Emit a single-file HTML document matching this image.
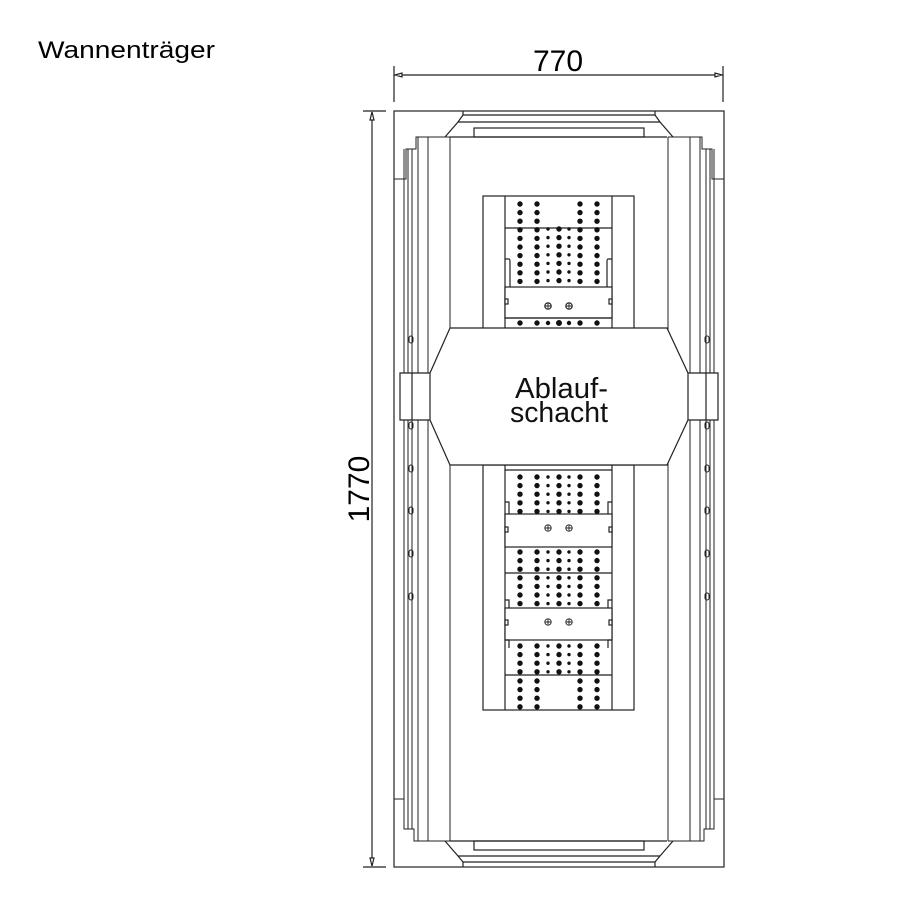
<!DOCTYPE html>
<html><head><meta charset="utf-8"><style>html,body{margin:0;padding:0;background:#fff}svg{display:block}</style></head>
<body>
<svg width="900" height="900" viewBox="0 0 900 900" xmlns="http://www.w3.org/2000/svg">
<rect width="900" height="900" fill="#fff"/>
<text x="38" y="58" font-family="Liberation Sans, sans-serif" font-size="24" textLength="177" lengthAdjust="spacingAndGlyphs" fill="#000">Wannenträger</text>
<g stroke="#222" stroke-width="1.2" fill="none">
<line x1="394" y1="66" x2="394" y2="102"/><line x1="723" y1="66" x2="723" y2="102"/>
<line x1="396" y1="75" x2="721" y2="75"/>
<path d="M395 75 L402 73 L402 77 Z M722 75 L715 73 L715 77 Z" fill="#fff"/>
<line x1="363" y1="111" x2="386" y2="111"/><line x1="363" y1="867" x2="386" y2="867"/>
<line x1="372" y1="112" x2="372" y2="866"/>
<path d="M372 112 L370 120 L374 120 Z M372 866 L370 858 L374 858 Z" fill="#fff"/>
<rect x="394" y="111" width="330" height="756"/>
</g>
<text x="558" y="71" text-anchor="middle" font-family="Liberation Sans, sans-serif" font-size="30" fill="#000">770</text>
<text transform="translate(369,489) rotate(-90)" text-anchor="middle" font-family="Liberation Sans, sans-serif" font-size="30" fill="#000">1770</text>

<g id="half" stroke="#222" stroke-width="1" fill="none">
<path d="M394 179 H406 V149 H416 V137 H450"/>
<path d="M394 799 H404 V829 H414 V841 H450"/>
<line x1="404" y1="149" x2="404" y2="829"/>
<line x1="408" y1="149" x2="408" y2="829"/>
<line x1="412" y1="149" x2="412" y2="829"/>
<line x1="418" y1="137" x2="418" y2="841"/>
<line x1="428" y1="137" x2="428" y2="841"/>
<line x1="450" y1="137" x2="450" y2="841"/>
<g stroke-width="1">
<rect x="409" y="336" width="4" height="7" rx="2"/>
<rect x="409" y="422" width="4" height="7" rx="2"/>
<rect x="409" y="465" width="4" height="7" rx="2"/>
<rect x="409" y="507" width="4" height="7" rx="2"/>
<rect x="409" y="550" width="4" height="7" rx="2"/>
<rect x="409" y="593" width="4" height="7" rx="2"/>
</g>
</g>
<use href="#half" transform="translate(1118,0) scale(-1,1)"/>

<g stroke="#222" stroke-width="1.2" fill="none">
<path d="M463 111 V115 H655 V111"/>
<path d="M445 137 L458 122 L463 115 M673 137 L660 122 L655 115"/>
<path d="M458 122 H660"/>
<rect x="474" y="128" width="170" height="9"/>
<line x1="450" y1="137" x2="667" y2="137"/>
<path d="M463 867 V862 H655 V867"/>
<path d="M445 841 L458 856 L463 862 M673 841 L660 856 L655 862"/>
<path d="M458 856 H660"/>
<rect x="474" y="841" width="170" height="9"/>
<line x1="450" y1="841" x2="667" y2="841"/>
</g>

<g stroke="#222" stroke-width="1.2" fill="#fff">
<rect x="483" y="196" width="151" height="133"/>
<line x1="505" y1="196" x2="505" y2="329"/><line x1="612" y1="196" x2="612" y2="329"/>
<line x1="505" y1="228" x2="612" y2="228"/>
<path d="M505 259 H509 Q510 259 510 262 V287 M612 259 H608 Q607 259 607 262 V287" fill="none"/>
<rect x="505" y="287" width="107" height="31"/>
<rect x="505" y="299" width="3" height="5"/><rect x="609" y="299" width="3" height="5"/>
<circle cx="548" cy="306" r="3.2" fill="none"/><circle cx="569" cy="306" r="3.2" fill="none"/>
<path d="M545 306 H551 M548 303 V309 M566 306 H572 M569 303 V309" stroke-width="0.9"/>
<line x1="505" y1="318" x2="612" y2="318"/>
</g>
<g stroke="#222" stroke-width="1.2" fill="#fff">
<rect x="483" y="465" width="151" height="245"/>
<line x1="505" y1="465" x2="505" y2="710"/><line x1="612" y1="465" x2="612" y2="710"/>
<line x1="505" y1="470" x2="612" y2="470"/>
<rect x="505" y="514" width="107" height="33"/>
<rect x="505" y="527" width="3" height="5"/><rect x="609" y="527" width="3" height="5"/>
<line x1="505" y1="573" x2="612" y2="573"/>
<rect x="505" y="608" width="107" height="32"/>
<rect x="505" y="620" width="3" height="5"/><rect x="609" y="620" width="3" height="5"/>
<line x1="505" y1="675" x2="612" y2="675"/>
<path d="M505 502 H509 V514 M612 502 H608 V514 M505 600 H509 V608 M612 600 H608 V608 M505 640 H509 V648 M612 640 H608 V648" fill="none"/>
<g fill="none" stroke-width="0.9">
<circle cx="548" cy="528" r="3.2"/><circle cx="569" cy="528" r="3.2"/>
<circle cx="548" cy="622" r="3.2"/><circle cx="569" cy="622" r="3.2"/>
<path d="M545 528 H551 M548 525 V531 M566 528 H572 M569 525 V531 M545 622 H551 M548 619 V625 M566 622 H572 M569 619 V625"/>
</g>
</g>

<g stroke="#111" stroke-linecap="round" fill="none">
<g stroke-width="5.4" stroke-dasharray="0 8.6">
<line x1="520" y1="204" x2="520" y2="282"/><line x1="537" y1="204" x2="537" y2="282"/>
<line x1="580" y1="204" x2="580" y2="282"/><line x1="597" y1="204" x2="597" y2="282"/>
<line x1="559" y1="229" x2="559" y2="282"/>
<line x1="520" y1="477" x2="520" y2="512"/><line x1="537" y1="477" x2="537" y2="512"/><line x1="559" y1="477" x2="559" y2="512"/><line x1="580" y1="477" x2="580" y2="512"/><line x1="597" y1="477" x2="597" y2="512"/>
<line x1="520" y1="552" x2="520" y2="605"/><line x1="537" y1="552" x2="537" y2="605"/><line x1="559" y1="552" x2="559" y2="605"/><line x1="580" y1="552" x2="580" y2="605"/><line x1="597" y1="552" x2="597" y2="605"/>
<line x1="520" y1="646" x2="520" y2="673"/><line x1="537" y1="646" x2="537" y2="673"/><line x1="559" y1="646" x2="559" y2="673"/><line x1="580" y1="646" x2="580" y2="673"/><line x1="597" y1="646" x2="597" y2="673"/>
<line x1="520" y1="681" x2="520" y2="708"/><line x1="537" y1="681" x2="537" y2="708"/><line x1="580" y1="681" x2="580" y2="708"/><line x1="597" y1="681" x2="597" y2="708"/>
</g>
<line x1="520" y1="323" x2="600" y2="323" stroke-width="5.4" stroke-dasharray="0 17 0 22 0 21 0 17"/>
<g stroke-width="3.4" stroke-dasharray="0 8.6">
<line x1="548" y1="229" x2="548" y2="282"/><line x1="569" y1="229" x2="569" y2="282"/>
<line x1="548" y1="477" x2="548" y2="512"/><line x1="569" y1="477" x2="569" y2="512"/>
<line x1="548" y1="552" x2="548" y2="605"/><line x1="569" y1="552" x2="569" y2="605"/>
<line x1="548" y1="646" x2="548" y2="673"/><line x1="569" y1="646" x2="569" y2="673"/>
</g>
<circle cx="548" cy="323" r="1.7" fill="#111"/><circle cx="569" cy="323" r="1.7" fill="#111"/>
<circle cx="559" cy="323" r="2.5" fill="#111"/>
</g>

<g stroke="#222" stroke-width="1.2" fill="#fff">
<path d="M450 328 H667 L688 373 H718 V420 H688 L667 465 H450 L430 420 H400 V373 H430 Z"/>
<line x1="412" y1="373" x2="412" y2="420"/><line x1="706" y1="373" x2="706" y2="420"/>
<line x1="430" y1="373" x2="430" y2="420"/><line x1="688" y1="373" x2="688" y2="420"/>
</g>
<text x="515" y="398" font-family="Liberation Sans, sans-serif" font-size="29" textLength="93" lengthAdjust="spacingAndGlyphs" fill="#111">Ablauf-</text>
<text x="510" y="422" font-family="Liberation Sans, sans-serif" font-size="29" textLength="98" lengthAdjust="spacingAndGlyphs" fill="#111">schacht</text>
</svg>
</body></html>
